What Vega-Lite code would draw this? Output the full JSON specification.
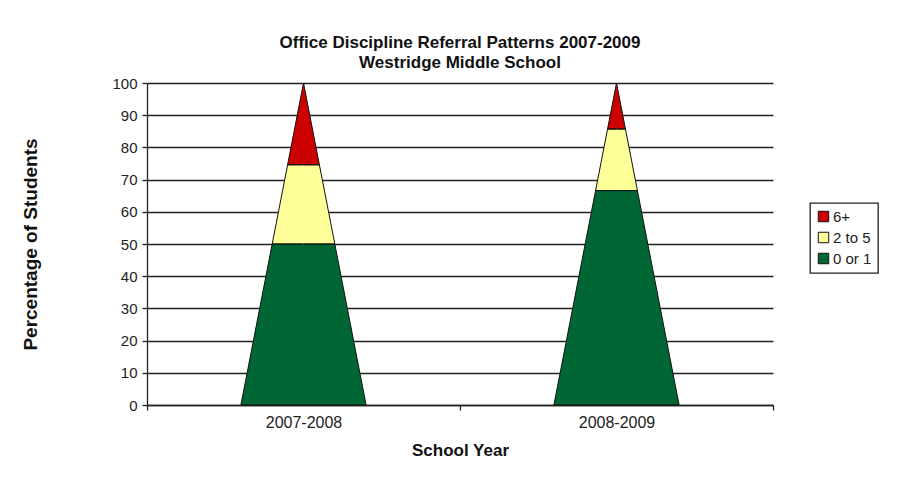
{
  "$schema": "https://vega.github.io/schema/vega-lite/v6.json",
  "autosize": "none",
  "width": 626,
  "height": 322,
  "padding": {"left": 147, "top": 83, "right": 135, "bottom": 84},
  "title": {
    "text": ["Office Discipline Referral Patterns 2007-2009", "Westridge Middle School"],
    "font": "Liberation Sans", "fontSize": 17, "fontWeight": "bold", "color": "#111",
    "anchor": "middle", "lineHeight": 20, "offset": 4
  },
  "data": {"values": [
    {"year": "2007-2008", "category": "0 or 1", "level": 0},
    {"year": "2007-2008", "category": "0 or 1", "level": 50},
    {"year": "2007-2008", "category": "2 to 5", "level": 50},
    {"year": "2007-2008", "category": "2 to 5", "level": 74.6},
    {"year": "2007-2008", "category": "6+", "level": 74.6},
    {"year": "2007-2008", "category": "6+", "level": 100},
    {"year": "2008-2009", "category": "0 or 1", "level": 0},
    {"year": "2008-2009", "category": "0 or 1", "level": 66.6},
    {"year": "2008-2009", "category": "2 to 5", "level": 66.6},
    {"year": "2008-2009", "category": "2 to 5", "level": 85.7},
    {"year": "2008-2009", "category": "6+", "level": 85.7},
    {"year": "2008-2009", "category": "6+", "level": 100}
  ]},
  "encoding": {
    "y": {"field": "level", "type": "quantitative", "scale": {"domain": [0, 100]},
          "axis": {"values": [0, 10, 20, 30, 40, 50, 60, 70, 80, 90, 100], "title": "Percentage of Students"}}
  },
  "layer": [
    {
      "mark": {"type": "point", "opacity": 0},
      "encoding": {
        "x": {"field": "year", "type": "nominal", "scale": {"type": "band", "paddingInner": 0, "paddingOuter": 0},
              "axis": {"title": "School Year", "labelAngle": 0, "tickBand": "extent", "grid": false, "labelPadding": 4, "labelFontSize": 16, "titlePadding": 12}}
      }
    },
    {
      "transform": [{"filter": "datum.year == '2007-2008'"}],
      "encoding": {
        "x": {"field": "level", "type": "quantitative", "stack": null, "scale": {"domain": [-150, 850]}, "axis": null}
      },
      "layer": [
        {"mark": {"type": "area", "orient": "horizontal"},
         "encoding": {"x2": {"datum": 101}, "color": {"field": "category", "type": "nominal",
           "scale": {"domain": ["6+", "2 to 5", "0 or 1"], "range": ["#CC0000", "#FFFF99", "#006633"]},
           "legend": {"orient": "none", "legendX": 663, "legendY": 120}}}},
        {"mark": {"type": "line", "color": "#111", "strokeWidth": 1}, "encoding": {"detail": {"field": "category"}}},
        {"mark": {"type": "rule", "color": "#111", "strokeWidth": 1}, "encoding": {"x2": {"datum": 100}}}
      ]
    },
    {
      "transform": [{"filter": "datum.year == '2007-2008'"}],
      "encoding": {
        "x": {"field": "level", "type": "quantitative", "stack": null, "scale": {"domain": [-650, 350], "reverse": true}, "axis": null}
      },
      "layer": [
        {"mark": {"type": "area", "orient": "horizontal"},
         "encoding": {"x2": {"datum": 100}, "color": {"field": "category", "type": "nominal",
           "scale": {"domain": ["6+", "2 to 5", "0 or 1"], "range": ["#CC0000", "#FFFF99", "#006633"]},
           "legend": {"orient": "none", "legendX": 663, "legendY": 120}}}},
        {"mark": {"type": "line", "color": "#111", "strokeWidth": 1}, "encoding": {"detail": {"field": "category"}}},
        {"mark": {"type": "rule", "color": "#111", "strokeWidth": 1}, "encoding": {"x2": {"datum": 100}}}
      ]
    },
    {
      "transform": [{"filter": "datum.year == '2008-2009'"}],
      "encoding": {
        "x": {"field": "level", "type": "quantitative", "stack": null, "scale": {"domain": [-650, 350]}, "axis": null}
      },
      "layer": [
        {"mark": {"type": "area", "orient": "horizontal"},
         "encoding": {"x2": {"datum": 101}, "color": {"field": "category", "type": "nominal",
           "scale": {"domain": ["6+", "2 to 5", "0 or 1"], "range": ["#CC0000", "#FFFF99", "#006633"]},
           "legend": {"orient": "none", "legendX": 663, "legendY": 120}}}},
        {"mark": {"type": "line", "color": "#111", "strokeWidth": 1}, "encoding": {"detail": {"field": "category"}}},
        {"mark": {"type": "rule", "color": "#111", "strokeWidth": 1}, "encoding": {"x2": {"datum": 100}}}
      ]
    },
    {
      "transform": [{"filter": "datum.year == '2008-2009'"}],
      "encoding": {
        "x": {"field": "level", "type": "quantitative", "stack": null, "scale": {"domain": [-150, 850], "reverse": true}, "axis": null}
      },
      "layer": [
        {"mark": {"type": "area", "orient": "horizontal"},
         "encoding": {"x2": {"datum": 100}, "color": {"field": "category", "type": "nominal",
           "scale": {"domain": ["6+", "2 to 5", "0 or 1"], "range": ["#CC0000", "#FFFF99", "#006633"]},
           "legend": {"orient": "none", "legendX": 663, "legendY": 120}}}},
        {"mark": {"type": "line", "color": "#111", "strokeWidth": 1}, "encoding": {"detail": {"field": "category"}}},
        {"mark": {"type": "rule", "color": "#111", "strokeWidth": 1}, "encoding": {"x2": {"datum": 100}}}
      ]
    }
  ],
  "resolve": {"scale": {"x": "independent"}, "axis": {"x": "independent"}},
  "config": {
    "view": {"stroke": null},
    "axis": {
      "labelFont": "Liberation Sans", "labelFontSize": 15, "labelColor": "#222", "labelPadding": 5,
      "titleFont": "Liberation Sans", "titleFontSize": 17, "titleFontWeight": "bold", "titleColor": "#111",
      "tickSize": 5, "tickColor": "#222", "domainColor": "#222", "domainWidth": 1.3, "tickWidth": 1.3,
      "gridColor": "#222", "gridWidth": 1.3, "gridOpacity": 1
    },
    "axisY": {"titlePadding": 71, "titleFontSize": 19},
    "legend": {
      "title": null, "strokeColor": "#222", "strokeWidth": 1.3, "padding": 6,
      "symbolType": "square", "symbolSize": 110, "symbolStrokeColor": "#111", "symbolStrokeWidth": 1,
      "symbolOpacity": 1, "labelFont": "Liberation Sans", "labelFontSize": 15, "labelColor": "#222",
      "labelOffset": 2, "rowPadding": 5
    }
  }
}
